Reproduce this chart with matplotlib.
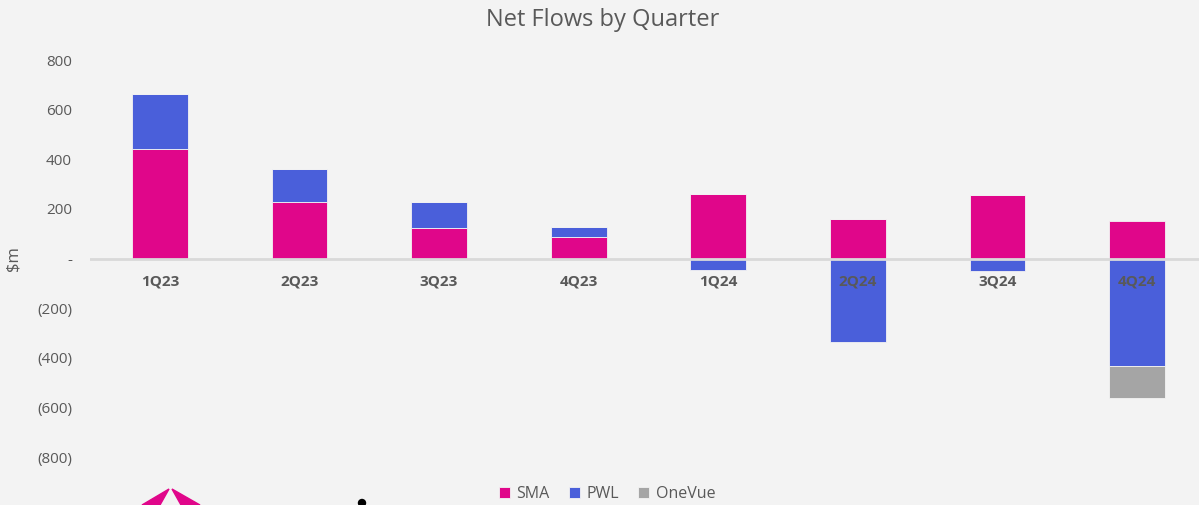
import matplotlib
matplotlib.use("Agg")
import matplotlib.pyplot as plt
from matplotlib.patches import Polygon, Ellipse
import numpy as np

quarters = ["1Q23", "2Q23", "3Q23", "4Q23", "1Q24", "2Q24", "3Q24", "4Q24"]
sma = [443, 226, 121, 85, 259, 160, 257, 152]
pwl = [218, 133, 105, 40, -47, -335, -52, -435]
onevue = [0, 0, 0, 0, 0, 0, 0, -127]
yticks = [800, 600, 400, 200, 0, -200, -400, -600, -800]
ytick_labels = ["800", "600", "400", "200", "-", "(200)", "(400)", "(600)", "(800)"]

C_SMA = "#E0068A"
C_PWL = "#4A5FDA"
C_ONE = "#A5A5A5"
BG = "#F3F3F3"
TXT = "#595959"
FONT = ["Open Sans", "DejaVu Sans"]
plt.rcParams["font.family"] = FONT

W, H = 1199, 505
fig = plt.figure(figsize=(W / 100, H / 100), dpi=100, facecolor=BG)
ax = fig.add_axes([90 / W, 1 - 457 / H, 1117 / W, 397 / H], facecolor=BG)

x = np.arange(len(quarters))
sma_a = np.array(sma, float)
pwl_a = np.array(pwl, float)
one_a = np.array(onevue, float)

pos_base = np.zeros(len(x))
neg_base = np.zeros(len(x))
for vals, col, lab in [(sma_a, C_SMA, "SMA"), (pwl_a, C_PWL, "PWL"), (one_a, C_ONE, "OneVue")]:
    base = np.where(vals >= 0, pos_base, neg_base)
    ax.bar(x, vals, bottom=base, width=0.4, color=col, edgecolor="#F3F3F3",
           linewidth=0.6, label=lab, zorder=2)
    pos_base = pos_base + np.where(vals > 0, vals, 0)
    neg_base = neg_base + np.where(vals < 0, vals, 0)

ax.axhline(0, color="#D9D9D9", linewidth=2, zorder=3)

ax.set_xlim(-0.5, len(x) - 0.5)
ax.set_ylim(-800, 800)
ax.set_yticks(yticks)
ax.set_yticklabels(ytick_labels, fontsize=11, color=TXT)
ax.tick_params(axis="y", length=0, pad=13)
ax.set_xticks([])
for s in ax.spines.values():
    s.set_visible(False)

for i, q in enumerate(quarters):
    ax.text(i, -92, q, ha="center", va="center", fontsize=11, fontweight="bold",
            color="#595959", zorder=5)

fig.text(13 / W, 1 - 259 / H, "$m", rotation=90, ha="center", va="center",
         fontsize=12, color=TXT)

fig.text(603 / W, 1 - 20 / H, "Net Flows by Quarter", ha="center", va="center",
         fontsize=17, color="#595959")

leg = ax.legend(loc="center", bbox_to_anchor=(607 / W, 1 - 494 / H),
                bbox_transform=fig.transFigure, ncol=3, frameon=False,
                fontsize=11.5, handlelength=0.7, handleheight=0.7,
                handletextpad=0.4, columnspacing=1.2)
for t in leg.get_texts():
    t.set_color(TXT)

def fpt(px, py):
    return (px / W, 1 - py / H)

fig.patches.append(Polygon([fpt(142, 505), fpt(169, 489), fpt(160, 505)], closed=True,
                           transform=fig.transFigure, color=C_SMA, figure=fig))
fig.patches.append(Polygon([fpt(172, 489), fpt(200, 505), fpt(181, 505)], closed=True,
                           transform=fig.transFigure, color=C_SMA, figure=fig))
fig.patches.append(Ellipse(fpt(362, 503), 7 / W, 7 / H, transform=fig.transFigure,
                           color="black", figure=fig))

fig.savefig("out.png", dpi=100, facecolor=BG)
